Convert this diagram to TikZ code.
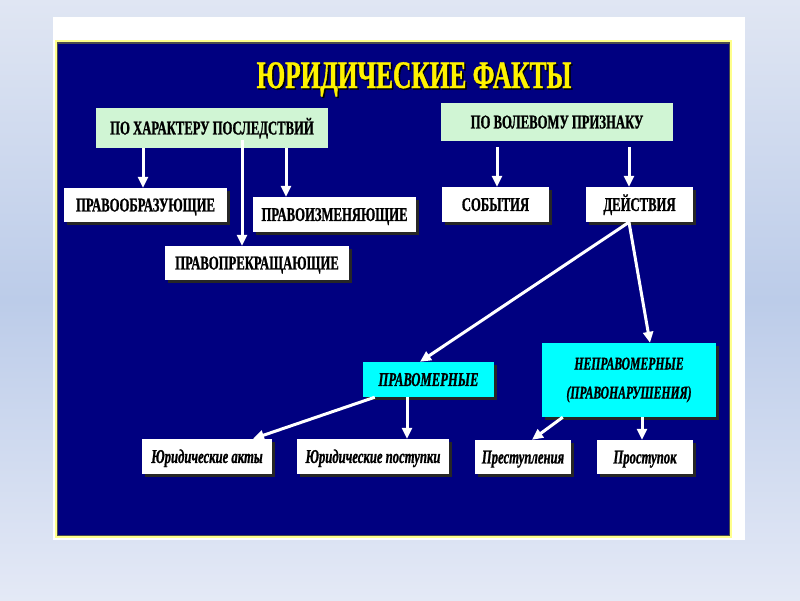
\documentclass[tikz,border=0pt]{standalone}
\usepackage{fontspec}
\setmainfont{Liberation Serif}
\newfontfamily\cond[FakeStretch=0.65, BoldFeatures={FakeBold=1}, BoldItalicFeatures={FakeBold=1}]{Liberation Serif}
\usetikzlibrary{arrows.meta,shadows}
\definecolor{navybg}{RGB}{0,0,128}
\definecolor{mint}{RGB}{208,245,212}
\definecolor{cyanbox}{RGB}{0,255,255}
\definecolor{bgtop}{RGB}{224,230,243}
\definecolor{bgmid}{RGB}{188,204,233}
\definecolor{bgbot}{RGB}{228,233,246}
\definecolor{frameyellow}{RGB}{255,255,140}
\tikzset{
  basebox/.style={inner sep=0pt, align=center, text=black},
  shad/.style={drop shadow={shadow xshift=3pt, shadow yshift=-3pt, fill=black!85, opacity=1}},
  capsbox/.style={basebox, shad, fill=white, font=\cond\bfseries\fontsize{19.5}{22}\selectfont, text height=12.9pt, text depth=0pt},
  greenbox/.style={basebox, fill=mint, font=\cond\bfseries\fontsize{19.5}{22}\selectfont, text height=12.9pt, text depth=0pt},
  cyanbx/.style={basebox, shad, fill=cyanbox, font=\cond\bfseries\itshape\fontsize{19.5}{22}\selectfont},
  italbox/.style={basebox, shad, fill=white, font=\cond\bfseries\itshape\fontsize{19.5}{22}\selectfont, text height=12.9pt, text depth=0pt},
  arr/.style={draw=white, line width=3pt, -{Triangle[length=11pt,width=10pt]}},
}
\begin{document}
\begin{tikzpicture}[x=1pt,y=-1pt]
\useasboundingbox (0,0) rectangle (800,600);
% background
\shade[top color=bgtop, bottom color=bgbot, middle color=bgmid] (0,0) rectangle (800,600);
\fill[white] (53,17) rectangle (745,540);
% navy frame
\fill[frameyellow] (55,40) rectangle (731.5,538);
\fill[black!70] (57,42) rectangle (729.5,536);
\fill[navybg] (58,43.5) rectangle (728.5,534.5);
% title
\node[anchor=base, text=black, font=\cond\bfseries\fontsize{39}{44}\selectfont, inner sep=0pt] (titlesh) at (415.5,89.5) {ЮРИДИЧЕСКИЕ ФАКТЫ};
\node[anchor=base, text=yellow, font=\cond\bfseries\fontsize{39}{44}\selectfont, inner sep=0pt] (title) at (414,88) {ЮРИДИЧЕСКИЕ ФАКТЫ};
% top boxes
\node[greenbox, minimum width=232pt, minimum height=40pt] (har) at (212,128) {ПО ХАРАКТЕРУ ПОСЛЕДСТВИЙ};
\node[greenbox, minimum width=232pt, minimum height=38pt] (vol) at (557,122) {ПО ВОЛЕВОМУ ПРИЗНАКУ};
\node[capsbox, minimum width=163pt, minimum height=34pt] (obr) at (145.5,205) {ПРАВООБРАЗУЮЩИЕ};
\node[capsbox, minimum width=163pt, minimum height=35pt] (izm) at (334.5,214.5) {ПРАВОИЗМЕНЯЮЩИЕ};
\node[capsbox, minimum width=184pt, minimum height=34pt] (prek) at (257,263) {ПРАВОПРЕКРАЩАЮЩИЕ};
\node[capsbox, minimum width=107pt, minimum height=35pt] (sob) at (495.5,204.5) {СОБЫТИЯ};
\node[capsbox, minimum width=107pt, minimum height=35pt] (dei) at (639.5,204.5) {ДЕЙСТВИЯ};
% middle
\node[cyanbx, minimum width=131pt, minimum height=35pt, text height=12.9pt, text depth=0pt] (pravom) at (428.5,379.5) {ПРАВОМЕРНЫЕ};
\node[cyanbx, minimum width=174pt, minimum height=74pt, font=\cond\bfseries\itshape\fontsize{18}{29}\selectfont] (neprav) at (629,380) {НЕПРАВОМЕРНЫЕ\\(ПРАВОНАРУШЕНИЯ)};
% bottom
\node[italbox, minimum width=130pt, minimum height=35pt] (akty) at (207,456.5) {Юридические акты};
\node[italbox, minimum width=152pt, minimum height=35pt] (post) at (373,456.5) {Юридические поступки};
\node[italbox, minimum width=96pt, minimum height=34pt] (prest) at (523,457) {Преступления};
\node[italbox, minimum width=96pt, minimum height=34pt] (prost) at (645,457) {Проступок};
% arrows
\draw[arr] ([xshift=-69pt]har.south) -- ([xshift=-2.5pt]obr.north);
\draw[arr] ([xshift=30pt,yshift=8pt]har.south) -- ([xshift=-15pt]prek.north);
\draw[arr] ([xshift=74pt]har.south) -- ([xshift=-48.5pt]izm.north);
\draw[arr] ([xshift=-60pt,yshift=-6pt]vol.south) -- ([xshift=1.5pt]sob.north);
\draw[arr] ([xshift=72pt,yshift=-6pt]vol.south) -- ([xshift=-10.5pt]dei.north);
\draw[arr] ([xshift=-10.5pt]dei.south) -- ([xshift=-8.5pt]pravom.north);
\draw[arr] ([xshift=-10.5pt]dei.south) -- ([xshift=21pt]neprav.north);
\draw[arr] ([xshift=12pt]pravom.south west) -- ([xshift=46pt]akty.north);
\draw[arr] ([xshift=-21.5pt]pravom.south) -- ([xshift=34pt]post.north);
\draw[arr] ([xshift=21pt]neprav.south west) -- ([xshift=9pt]prest.north);
\draw[arr] ([xshift=13pt]neprav.south) -- ([xshift=-3pt]prost.north);
\end{tikzpicture}
\end{document}
